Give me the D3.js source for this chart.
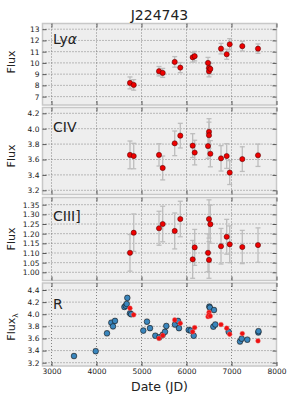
<!DOCTYPE html>
<html><head><meta charset="utf-8">
<script src="https://cdn.jsdelivr.net/npm/d3@7"></script>
<style>body{margin:0;background:#fff}svg{display:block}text{font-family:"DejaVu Sans",sans-serif;fill:#222}</style>
</head><body><svg id="c" width="300" height="400"></svg>
<script>
// ---- data ----
const specDates = [4744, 4827, 5389, 5471, 5738, 5862, 6137, 6182, 6478, 6500, 6500, 6530, 6767, 6893, 6960, 7240, 7589];
const lyaFlux = [8.22, 8.04, 9.26, 9.11, 10.09, 9.58, 10.5, 10.6, 10.0, 9.55, 9.26, 9.46, 11.27, 10.77, 11.66, 11.49, 11.27];
const lyaErr  = [0.53, 0.47, 0.42, 0.40, 0.47, 0.45, 0.43, 0.42, 0.49, 0.50, 0.50, 0.50, 0.47, 0.45, 0.50, 0.43, 0.42];
const civFlux = [3.66, 3.645, 3.66, 3.49, 3.81, 3.91, 3.78, 3.69, 3.775, 3.96, 3.915, 3.675, 3.615, 3.645, 3.43, 3.605, 3.655];
const civErr  = [0.18, 0.165, 0.145, 0.155, 0.16, 0.16, 0.155, 0.16, 0.16, 0.17, 0.17, 0.17, 0.165, 0.16, 0.155, 0.16, 0.145];
const ciiiFlux = [1.101, 1.205, 1.228, 1.25, 1.214, 1.276, 1.067, 1.129, 1.101, 1.276, 1.064, 1.249, 1.135, 1.184, 1.145, 1.131, 1.141];
const ciiiErr  = [0.095, 0.097, 0.088, 0.092, 0.093, 0.092, 0.098, 0.093, 0.098, 0.099, 0.095, 0.099, 0.092, 0.09, 0.095, 0.086, 0.089];
const rSpecFlux = [4.10, 3.99, 3.60, 3.65, 3.905, 3.85, 3.71, 3.78, 3.96, 4.03, 3.99, 3.97, 3.83, 3.77, 3.67, 3.68, 3.56];
const photDates = [3500, 3982, 4233, 4329, 4367, 4411, 4620, 4650, 4671, 4685, 4744, 4770, 5040, 5122, 5189, 5307, 5396, 5471, 5522, 5551, 5744, 5811, 5833, 6049, 6093, 6160, 6507, 6520, 6611, 6596, 6640, 6937, 7189, 7226, 7351, 7596, 7600];
const photFlux  = [3.31, 3.39, 3.685, 3.86, 3.80, 3.89, 4.12, 4.14, 4.17, 4.27, 4.015, 4.00, 3.73, 3.877, 3.77, 3.645, 3.62, 3.66, 3.71, 3.806, 3.83, 3.89, 3.77, 3.74, 3.73, 3.645, 4.125, 4.11, 4.07, 3.795, 3.83, 3.71, 3.55, 3.596, 3.58, 3.70, 3.72];
const photErr = 0.04;
const xTicks = [3000, 4000, 5000, 6000, 7000, 8000];
const lyaTicks = [7, 8, 9, 10, 11, 12, 13];
const civTicks = [3.2, 3.4, 3.6, 3.8, 4.0, 4.2];
const ciiiTicks = [1.00, 1.05, 1.10, 1.15, 1.20, 1.25, 1.30, 1.35];
const rTicks = [3.2, 3.4, 3.6, 3.8, 4.0, 4.2, 4.4];

// ---- layout ----
const svg = d3.select("#c");
const L = 42.5, R = 276.5;
const x = d3.scaleLinear().domain([2800, 8000]).range([L, R]);

const panels = [
  {top: 23.5, bottom: 105, anchor: [13, 29.2, 7, 96.6], ticks: lyaTicks, fmt: d3.format("d"), name: "Ly", greek: "α", labelY: 44, ylab: "Flux", ylabY: 62, vals: lyaFlux, errs: lyaErr},
  {top: 107.5, bottom: 194.5, anchor: [4.2, 113.3, 3.2, 190.3], ticks: civTicks, fmt: d3.format(".1f"), name: "CIV", labelY: 132, ylab: "Flux", ylabY: 156, vals: civFlux, errs: civErr},
  {top: 197.5, bottom: 280.5, anchor: [1.35, 204.7, 1.00, 272.3], ticks: ciiiTicks, fmt: d3.format(".2f"), name: "CIII]", labelY: 221, ylab: "Flux", ylabY: 239, vals: ciiiFlux, errs: ciiiErr},
  {top: 283, bottom: 366, anchor: [4.4, 290, 3.2, 362.7], ticks: rTicks, fmt: d3.format(".1f"), name: "R", labelY: 309, ylab: "Flux", ylabY: 327, phot: true}
];

panels.forEach((p, i) => {
  const a = d3.scaleLinear().domain([p.anchor[0], p.anchor[2]]).range([p.anchor[1], p.anchor[3]]);
  const y = d3.scaleLinear().domain([a.invert(p.bottom), a.invert(p.top)]).range([p.bottom, p.top]);
  const g = svg.append("g");
  g.append("rect").attr("x", L).attr("y", p.top).attr("width", R - L).attr("height", p.bottom - p.top).attr("fill", "#eeeeee");
  // grid
  g.selectAll(".gx").data(xTicks).join("line")
    .attr("x1", d => x(d)).attr("x2", d => x(d)).attr("y1", p.top).attr("y2", p.bottom)
    .attr("stroke", "#555").attr("stroke-width", 0.7).attr("stroke-dasharray", "1,2");
  g.selectAll(".gy").data(p.ticks).join("line")
    .attr("x1", L).attr("x2", R).attr("y1", d => y(d)).attr("y2", d => y(d))
    .attr("stroke", "#555").attr("stroke-width", 0.7).attr("stroke-dasharray", "1,2");
  // border
  g.append("rect").attr("x", L).attr("y", p.top).attr("width", R - L).attr("height", p.bottom - p.top)
    .attr("fill", "none").attr("stroke", "#c8c8c8").attr("stroke-width", 1.5);
  // axes (inward ticks)
  const styleAxis = sel => { sel.select(".domain").remove(); sel.selectAll("line").attr("stroke", "#333").attr("stroke-width", 0.8); sel.selectAll("text").attr("font-family", "DejaVu Sans").attr("font-size", 7.5).attr("fill", "#222"); };
  g.append("g").attr("transform", `translate(${L},0)`).call(d3.axisLeft(y).tickValues(p.ticks).tickFormat(p.fmt).tickSize(-4).tickPadding(3)).call(styleAxis);
  g.append("g").attr("transform", `translate(${R},0)`).call(d3.axisRight(y).tickValues(p.ticks).tickFormat("").tickSize(-4)).call(styleAxis);
  g.append("g").attr("transform", `translate(0,${p.top})`).call(d3.axisTop(x).tickValues(xTicks).tickFormat("").tickSize(-4)).call(styleAxis);
  const bx = g.append("g").attr("transform", `translate(0,${p.bottom})`)
    .call(d3.axisBottom(x).tickValues(xTicks).tickFormat(i === 3 ? d3.format("d") : "").tickSize(-4).tickPadding(3)).call(styleAxis);

  // label
  const t = g.append("text").attr("x", 53).attr("y", p.labelY).attr("font-size", 14).text(p.name);
  if (p.greek) t.append("tspan").attr("font-style", "italic").text(p.greek);
  // ylabel
  const yl = g.append("text").attr("transform", `translate(15,${p.ylabY}) rotate(-90)`).attr("text-anchor", "middle").attr("font-size", 11).text(p.ylab);
  if (p.phot) yl.append("tspan").attr("font-size", 7.5).attr("dy", 3).text("λ");

  const cap = 2.5;
  const drawErr = (dates, vals, errs, color) => {
    const eg = g.append("g").attr("stroke", color).attr("stroke-width", 1.3);
    dates.forEach((d, k) => {
      const e = Array.isArray(errs) ? errs[k] : errs;
      const cx = x(d), y1 = y(vals[k] - e), y2 = y(vals[k] + e);
      eg.append("line").attr("x1", cx).attr("x2", cx).attr("y1", y1).attr("y2", y2);
      eg.append("line").attr("x1", cx - cap).attr("x2", cx + cap).attr("y1", y1).attr("y2", y1);
      eg.append("line").attr("x1", cx - cap).attr("x2", cx + cap).attr("y1", y2).attr("y2", y2);
    });
  };
  if (!p.phot) {
    drawErr(specDates, p.vals, p.errs, "#bdbdbd");
    g.selectAll(".pt").data(specDates).join("circle")
      .attr("cx", d => x(d)).attr("cy", (d, k) => y(p.vals[k])).attr("r", 2.6)
      .attr("fill", "#ee0000").attr("stroke", "#400").attr("stroke-width", 0.5);
  } else {
    drawErr(photDates, photFlux, photErr, "#c4c4c4");
    g.selectAll(".pb").data(photDates).join("circle")
      .attr("cx", d => x(d)).attr("cy", (d, k) => y(photFlux[k])).attr("r", 2.8)
      .attr("fill", "#3a86bd").attr("stroke", "#111").attr("stroke-width", 0.6);
    g.selectAll(".pr").data(specDates).join("circle")
      .attr("cx", d => x(d)).attr("cy", (d, k) => y(rSpecFlux[k])).attr("r", 2.4)
      .attr("fill", "#ee1111").attr("stroke", "#e77").attr("stroke-width", 0.4);
  }
});

svg.append("text").attr("x", (L + R) / 2).attr("y", 20).attr("text-anchor", "middle").attr("font-size", 14).text("J224743");
svg.append("text").attr("x", (L + R) / 2).attr("y", 391).attr("text-anchor", "middle").attr("font-size", 12.5).text("Date (JD)");
</script></body></html>
